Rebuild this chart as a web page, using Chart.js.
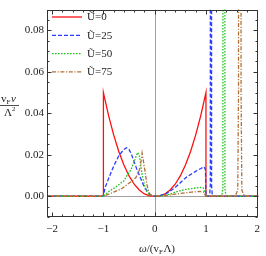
<!DOCTYPE html>
<html>
<head>
<meta charset="utf-8">
<script src="https://cdn.jsdelivr.net/npm/chart.js@4/dist/chart.umd.min.js"></script>
<style>
  html, body { margin: 0; padding: 0; background: #fff; }
  #wrap { width: 266px; height: 256px; position: relative; }
</style>
</head>
<body>
<div id="wrap"><canvas id="dos"></canvas></div>
<script>
// series: omega / (vF Lambda)  ->  vF nu / Lambda^2
var seriesNames = ["Ũ=0", "Ũ=25", "Ũ=50", "Ũ=75"];

var omegaU0 = [-2.1, -1, -1, -0.9, -0.8, -0.7, -0.6, -0.5, -0.4, -0.3, -0.2, -0.1, 0,
    0.1, 0.2, 0.3, 0.4, 0.5, 0.6, 0.7, 0.8, 0.9, 1, 1, 2.1];
var nuU0 = [0, 0, 0.05, 0.039, 0.0296, 0.0216, 0.0151, 0.0098, 0.0058, 0.0030, 0.0011, 0.0002, 0,
    0.0002, 0.0011, 0.0030, 0.0058, 0.0098, 0.0151, 0.0216, 0.0296, 0.039, 0.05, 0, 0];

var omegaU25 = [-2.1, -1, -0.97, -0.9, -0.8, -0.7, -0.6, -0.55, -0.5, -0.45, -0.4, -0.35, -0.3, -0.2, -0.1, 0,
    0.1, 0.2, 0.3, 0.4, 0.5, 0.6, 0.7, 0.8, 0.9, 0.96, 0.99, 1, 1.07, 1.085, 1.09, 1.105, 1.11, 1.125, 2.1];
var nuU25 = [0, 0, 0.004, 0.0085, 0.0145, 0.0195, 0.0226, 0.0234, 0.0226, 0.0200, 0.0166, 0.0132, 0.0102, 0.0042, 0.0010, 0,
    0.0003, 0.0010, 0.0024, 0.0042, 0.0065, 0.0088, 0.0105, 0.0120, 0.0134, 0.0142, 0.0130, 0, 0, 0.005, 1, 1, 0.005, 0, 0];

var omegaU50 = [-2.1, -1, -0.9, -0.8, -0.7, -0.6, -0.53, -0.47, -0.4, -0.36, -0.33, -0.3, -0.27, -0.245, -0.2, -0.15, -0.1, 0,
    0.1, 0.2, 0.3, 0.4, 0.55, 0.72, 0.88, 0.95, 1, 1.31, 1.33, 1.34, 1.36, 1.37, 1.39, 2.1];
var nuU50 = [0, 0, 0.0022, 0.0038, 0.0055, 0.0075, 0.0104, 0.0125, 0.0166, 0.0195, 0.0211, 0.0195, 0.0150, 0.0104, 0.0055, 0.0020, 0.0006, 0,
    0.0001, 0.0004, 0.0010, 0.0020, 0.0030, 0.0037, 0.0043, 0.0040, 0, 0, 0.004, 1, 1, 0.004, 0, 0];

var omegaU75 = [-2.1, -1, -0.8, -0.65, -0.53, -0.45, -0.37, -0.32, -0.29, -0.265, -0.245, -0.22, -0.18, -0.15, -0.115, -0.08, 0,
    0.2, 0.4, 0.6, 0.72, 0.88, 0.95, 1, 1.57, 1.62, 1.635, 1.645, 1.675, 1.685, 1.70, 1.75, 2.1];
var nuU75 = [0, 0, 0.002, 0.0035, 0.0058, 0.0072, 0.0089, 0.0112, 0.0135, 0.0170, 0.0208, 0.0170, 0.0106, 0.0055, 0.002, 0.0006, 0,
    0.0003, 0.001, 0.0017, 0.002, 0.0023, 0.0021, 0, 0, 0.003, 0.05, 1, 1, 0.05, 0.003, 0, 0];

var xTickLabels = [-2, -1, 0, 1, 2];
var yTickLabels = [0, 0.02, 0.04, 0.06, 0.08];

var colors = ["#ff1010", "#2b3cff", "#1fc21f", "#b07238"];
var dashes = [[], [4, 2], [1.6, 1.4], [4, 1.6, 1.2, 1.6]];
var serif = "'Liberation Serif', 'DejaVu Serif', serif";

function pts(xs, ys) {
    return xs.map(function (x, i) { return { x: x, y: ys[i] }; });
}

var allX = [omegaU0, omegaU25, omegaU50, omegaU75];
var allY = [nuU0, nuU25, nuU50, nuU75];

var datasets = seriesNames.map(function (name, i) {
    return {
        label: name,
        data: pts(allX[i], allY[i]),
        borderColor: colors[i],
        borderWidth: 1.3,
        borderDash: dashes[i],
        pointRadius: 0,
        tension: 0,
        fill: false,
        order: 4 - i
    };
});

// gray zero lines, frame with inward ticks, legend and axis titles
var framePlugin = {
    id: 'frame',
    beforeDatasetsDraw: function (chart) {
        var ctx = chart.ctx, a = chart.chartArea;
        var xs = chart.scales.x, ys = chart.scales.y;
        ctx.save();
        ctx.strokeStyle = '#a0a0a0';
        ctx.lineWidth = 1;
        var x0 = Math.round(xs.getPixelForValue(0)) + 0.5;
        var y0 = Math.round(ys.getPixelForValue(0)) + 0.5;
        ctx.beginPath();
        ctx.moveTo(x0, a.top); ctx.lineTo(x0, a.bottom);
        ctx.moveTo(a.left, y0); ctx.lineTo(a.right, y0);
        ctx.stroke();
        ctx.restore();
    },
    afterDraw: function (chart) {
        var ctx = chart.ctx, a = chart.chartArea;
        var xs = chart.scales.x, ys = chart.scales.y;
        ctx.save();
        ctx.strokeStyle = '#333';
        ctx.lineWidth = 1;
        var L = Math.round(a.left) + 0.5, R = Math.round(a.right) - 0.5;
        var T = Math.round(a.top) + 0.5, B = Math.round(a.bottom) - 0.5;
        ctx.strokeRect(L, T, R - L, B - T);
        ctx.beginPath();
        var v, p, len;
        for (var k = -10; k <= 10; k++) {
            v = k * 0.2;
            p = Math.round(xs.getPixelForValue(v)) + 0.5;
            len = (k % 5 === 0) ? 4 : 2;
            ctx.moveTo(p, B); ctx.lineTo(p, B - len);
            ctx.moveTo(p, T); ctx.lineTo(p, T + len);
        }
        for (var j = -2; j <= 18; j++) {
            v = j * 0.005;
            p = Math.round(ys.getPixelForValue(v)) + 0.5;
            len = (j % 4 === 0) ? 4 : 2;
            ctx.moveTo(L, p); ctx.lineTo(L + len, p);
            ctx.moveTo(R, p); ctx.lineTo(R - len, p);
        }
        ctx.stroke();

        // legend
        ctx.font = '11px ' + serif;
        ctx.textBaseline = 'middle';
        for (var i = 0; i < seriesNames.length; i++) {
            var yy = 17 + i * 18.3;
            ctx.strokeStyle = colors[i];
            ctx.lineWidth = 1.3;
            ctx.setLineDash(dashes[i]);
            ctx.beginPath();
            ctx.moveTo(52, yy); ctx.lineTo(82, yy);
            ctx.stroke();
            ctx.setLineDash([]);
            ctx.fillStyle = '#222';
            ctx.fillText(seriesNames[i], 87, yy + 0.5);
        }

        // x title: omega/(v_F Lambda)
        ctx.fillStyle = '#222';
        ctx.textBaseline = 'alphabetic';
        var bx = 139, by = 252;
        ctx.font = 'italic 11px ' + serif;
        ctx.fillText('ω', bx, by); bx += ctx.measureText('ω').width;
        ctx.font = '11px ' + serif;
        ctx.fillText('/(v', bx, by); bx += ctx.measureText('/(v').width;
        ctx.font = '7px ' + serif;
        ctx.fillText('F', bx, by + 2); bx += ctx.measureText('F').width + 0.5;
        ctx.font = '11px ' + serif;
        ctx.fillText('Λ)', bx, by);

        // y title: fraction vF nu / Lambda^2
        ctx.font = '11px ' + serif;
        var tx = 1, ty = 102;
        ctx.fillText('v', tx, ty); tx += ctx.measureText('v').width;
        ctx.font = '7px ' + serif;
        ctx.fillText('F', tx, ty + 2); tx += ctx.measureText('F').width + 0.5;
        ctx.font = 'italic 11px ' + serif;
        ctx.fillText('ν', tx, ty);
        ctx.strokeStyle = '#222';
        ctx.lineWidth = 0.8;
        ctx.beginPath();
        ctx.moveTo(0, 105.5); ctx.lineTo(19, 105.5);
        ctx.stroke();
        ctx.font = '11px ' + serif;
        ctx.fillText('Λ', 4, 116);
        ctx.font = '7px ' + serif;
        ctx.fillText('2', 4 + 8, 111);
        ctx.restore();
    }
};

var dosChart = new Chart(document.getElementById('dos'), {
    type: 'line',
    data: { datasets: datasets },
    options: {
        responsive: true,
        maintainAspectRatio: false,
        animation: false,
        events: [],
        layout: { padding: { top: 1, right: 5, left: 0, bottom: 0 } },
        plugins: {
            legend: { display: false },
            tooltip: { enabled: false }
        },
        scales: {
            x: {
                type: 'linear',
                min: -2.1,
                max: 2.02,
                grid: { display: false, drawTicks: false },
                border: { display: false },
                afterFit: function (s) { s.height = 39; },
                afterBuildTicks: function (s) {
                    s.ticks = xTickLabels.map(function (v) { return { value: v }; });
                },
                ticks: {
                    padding: 6,
                    autoSkip: false,
                    maxRotation: 0,
                    color: '#222',
                    font: { family: serif, size: 11 },
                    callback: function (v) {
                        return v < 0 ? '\u2212' + Math.abs(v) : String(v);
                    }
                }
            },
            y: {
                min: -0.01,
                max: 0.09,
                grid: { display: false, drawTicks: false },
                border: { display: false },
                afterFit: function (s) { s.width = 47; },
                afterBuildTicks: function (s) {
                    s.ticks = yTickLabels.map(function (v) { return { value: v }; });
                },
                ticks: {
                    padding: 3,
                    autoSkip: false,
                    color: '#222',
                    font: { family: serif, size: 11 },
                    callback: function (v) { return v.toFixed(2); }
                }
            }
        }
    },
    plugins: [framePlugin]
});
</script>
</body>
</html>
